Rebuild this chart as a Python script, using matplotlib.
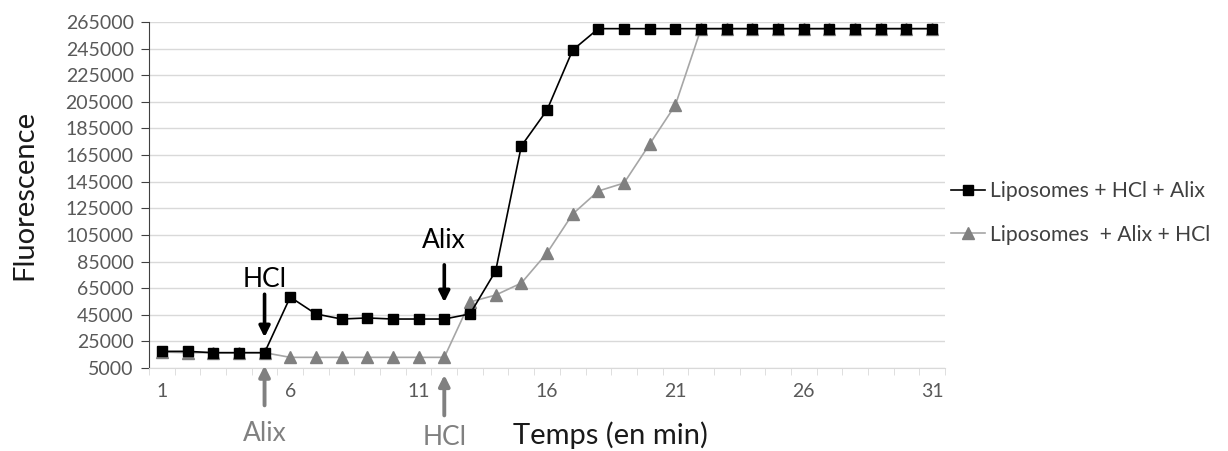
import numpy as np
import matplotlib.pyplot as plt

plt.rcParams['font.family'] = ['Lato', 'DejaVu Sans']

# Data
minutes = list(range(1, 32))
hcl_then_alix = [17500, 17500, 16500, 16500, 16500, 58300, 45600, 41800, 42600,
                 41800, 41800, 41800, 45600, 77900, 171800, 198800, 243900,
                 260000, 260000, 260000, 260000, 260000, 260000, 260000, 260000,
                 260000, 260000, 260000, 260000, 260000, 260000]
alix_then_hcl = [17000, 16500, 16500, 16500, 16500, 13000, 13000, 13000, 13000,
                 13000, 13000, 13000, 54600, 59800, 68800, 91400, 120700, 138000,
                 144000, 173300, 202600, 260000, 260000, 260000, 260000, 260000,
                 260000, 260000, 260000, 260000, 260000]
series_labels = ['Liposomes + HCl + Alix', 'Liposomes  + Alix + HCl']
yticks = list(range(5000, 265001, 20000))
xticks = [1, 6, 11, 16, 21, 26, 31]

fig = plt.figure(figsize=(12.28, 4.51), dpi=100)
ax = fig.add_axes([149 / 1228, (451 - 368) / 451, 796 / 1228, 346 / 451])

ax.plot(minutes, alix_then_hcl, color='#a6a6a6', lw=1.2, marker='^',
        markersize=8, markerfacecolor='#808080', markeredgecolor='#808080',
        label=series_labels[1], zorder=3)
ax.plot(minutes, hcl_then_alix, color='black', lw=1.2, marker='s',
        markersize=6.5, label=series_labels[0], zorder=4)

ax.set_xlim(0.5, 31.5)
ax.set_ylim(5000, 265000)
ax.set_yticks(yticks)
ax.set_yticklabels([str(v) for v in yticks])
ax.set_xticks(xticks)
ax.set_xticks(np.arange(0.5, 31.6, 1), minor=True)
ax.tick_params(axis='x', which='major', length=0, labelsize=14,
               labelcolor='#595959', pad=11)
ax.tick_params(axis='x', which='minor', length=5, color='#d9d9d9')
ax.tick_params(axis='y', length=6, color='#404040', labelsize=14,
               labelcolor='#595959', pad=5)
ax.grid(axis='y', color='#d9d9d9', lw=1)
ax.set_axisbelow(True)
for s in ['top', 'right']:
    ax.spines[s].set_visible(False)
ax.spines['bottom'].set_color('#d9d9d9')
ax.spines['left'].set_color('#404040')

ax.set_ylabel('Fluorescence', fontsize=21, color='#1a1a1a')
ax.yaxis.set_label_coords(-0.14, 0.5)
ax.set_xlabel('Temps (en min)', fontsize=21, color='#1a1a1a')
ax.xaxis.set_label_coords(0.58, -0.155)

# Black arrows (first additions)
ax.annotate('', xy=(5, 26000), xytext=(5, 62500),
            arrowprops=dict(arrowstyle='-|>', color='black', lw=2.6,
                            mutation_scale=16))
ax.text(5, 71500, 'HCl', ha='center', va='center', fontsize=19)
ax.annotate('', xy=(12, 52300), xytext=(12, 84600),
            arrowprops=dict(arrowstyle='-|>', color='black', lw=2.6,
                            mutation_scale=16))
ax.text(12, 101000, 'Alix', ha='center', va='center', fontsize=19)

# Gray arrows (below the axis)
tr = ('data', 'axes fraction')
ax.annotate('', xy=(5, 0.015), xycoords=tr, xytext=(5, -0.116), textcoords=tr,
            arrowprops=dict(arrowstyle='-|>', color='#808080', lw=2.8,
                            mutation_scale=16), annotation_clip=False)
ax.annotate('Alix', xy=(5, -0.19), xycoords=tr, ha='center', va='center',
            fontsize=19, color='#808080', annotation_clip=False)
ax.annotate('', xy=(12, -0.012), xycoords=tr, xytext=(12, -0.145),
            textcoords=tr,
            arrowprops=dict(arrowstyle='-|>', color='#808080', lw=2.8,
                            mutation_scale=16), annotation_clip=False)
ax.annotate('HCl', xy=(12, -0.2), xycoords=tr, ha='center', va='center',
            fontsize=19, color='#808080', annotation_clip=False)

handles, labels = ax.get_legend_handles_labels()
leg = fig.legend(handles[::-1], labels[::-1], loc='center left',
                 bbox_to_anchor=(932 / 1228, (451 - 213) / 451), frameon=False,
                 fontsize=15.2, handlelength=1.6, handletextpad=0.25,
                 labelspacing=1.1, labelcolor='#404040')

fig.savefig('out.png', dpi=100)
